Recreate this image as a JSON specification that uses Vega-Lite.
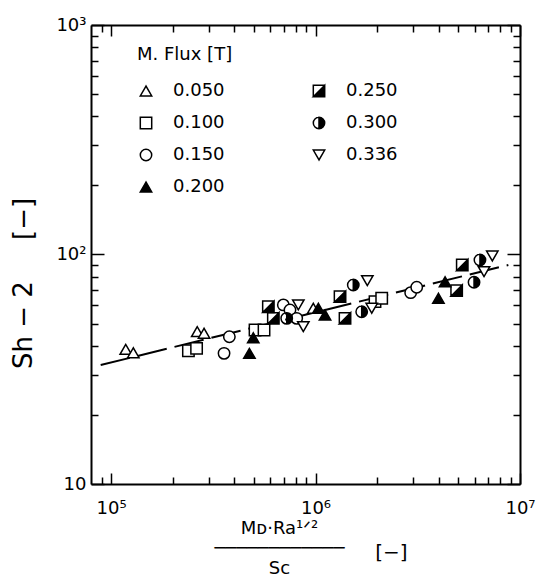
{
  "$schema": "https://vega.github.io/schema/vega-lite/v6.json",
  "width": 429,
  "height": 459,
  "autosize": {"type": "none"},
  "padding": {"left": 91, "top": 25, "right": 20, "bottom": 92},
  "background": "white",
  "config": {
    "font": "DejaVu Sans",
    "view": {"stroke": null},
    "axis": {
      "grid": false,
      "domainColor": "black",
      "domainWidth": 2,
      "tickColor": "black",
      "tickWidth": 1.5,
      "labelColor": "black",
      "labelFont": "DejaVu Sans",
      "labelFontSize": 18,
      "labelOverlap": false,
      "labelFlush": false,
      "titleColor": "black",
      "titleFont": "DejaVu Sans",
      "titleFontWeight": "normal"
    },
    "legend": {
      "title": "M. Flux [T]",
      "orient": "none",
      "legendX": 46,
      "legendY": 21,
      "columns": 2,
      "columnPadding": 85,
      "rowPadding": 14,
      "labelFontSize": 18,
      "labelFont": "DejaVu Sans",
      "labelColor": "black",
      "labelOffset": 18,
      "titleFontSize": 18,
      "titleFont": "DejaVu Sans",
      "titleFontWeight": "normal",
      "titleColor": "black",
      "titlePadding": 18,
      "symbolSize": 130,
      "symbolStrokeWidth": 1.5,
      "symbolOpacity": 1
    }
  },
  "datasets": {
    "fit": [
      {"x": 89000, "y": 33.0},
      {"x": 8770000, "y": 90.0}
    ],
    "pts": [
      {"flux": "0.050", "x": 118000, "y": 38.6},
      {"flux": "0.050", "x": 128500, "y": 37.3},
      {"flux": "0.050", "x": 264000, "y": 46.1},
      {"flux": "0.050", "x": 285000, "y": 45.4},
      {"flux": "0.050", "x": 975000, "y": 58.3},
      {"flux": "0.100", "x": 239000, "y": 38.1},
      {"flux": "0.100", "x": 262000, "y": 39.0},
      {"flux": "0.100", "x": 506000, "y": 46.9},
      {"flux": "0.100", "x": 560000, "y": 46.9},
      {"flux": "0.100", "x": 1954000, "y": 62.3},
      {"flux": "0.100", "x": 2107000, "y": 64.5},
      {"flux": "0.150", "x": 379000, "y": 43.8},
      {"flux": "0.150", "x": 357000, "y": 37.1},
      {"flux": "0.150", "x": 696000, "y": 60.3},
      {"flux": "0.150", "x": 750000, "y": 57.3},
      {"flux": "0.150", "x": 809000, "y": 52.7},
      {"flux": "0.150", "x": 2920000, "y": 68.2},
      {"flux": "0.150", "x": 3125000, "y": 72.0},
      {"flux": "0.200", "x": 475000, "y": 37.1},
      {"flux": "0.200", "x": 496000, "y": 43.4},
      {"flux": "0.200", "x": 1032000, "y": 58.3},
      {"flux": "0.200", "x": 1113000, "y": 54.5},
      {"flux": "0.200", "x": 4300000, "y": 76.1},
      {"flux": "0.200", "x": 3990000, "y": 64.5},
      {"flux": "0.250", "x": 588000, "y": 59.2},
      {"flux": "0.250", "x": 622000, "y": 52.7},
      {"flux": "0.250", "x": 1318000, "y": 65.5},
      {"flux": "0.250", "x": 1394000, "y": 52.7},
      {"flux": "0.250", "x": 5220000, "y": 90.0},
      {"flux": "0.250", "x": 4900000, "y": 69.6},
      {"flux": "0.300", "x": 723000, "y": 52.7},
      {"flux": "0.300", "x": 1530000, "y": 73.6},
      {"flux": "0.300", "x": 1682000, "y": 56.3},
      {"flux": "0.300", "x": 5960000, "y": 75.7},
      {"flux": "0.300", "x": 6370000, "y": 94.6},
      {"flux": "0.336", "x": 824000, "y": 60.3},
      {"flux": "0.336", "x": 871600, "y": 48.5},
      {"flux": "0.336", "x": 1792000, "y": 76.9},
      {"flux": "0.336", "x": 1883000, "y": 58.3},
      {"flux": "0.336", "x": 7320000, "y": 98.5},
      {"flux": "0.336", "x": 6670000, "y": 84.2}
    ]
  },
  "resolve": {"axis": {"x": "independent", "y": "independent"}},
  "layer": [
    {
      "data": {"name": "fit"},
      "mark": {"type": "line", "stroke": "black", "strokeWidth": 2, "strokeDash": [30, 8]},
      "encoding": {
        "x": {
          "field": "x", "type": "quantitative",
          "scale": {"type": "log", "domain": [79800, 10000000], "nice": false},
          "axis": {
            "orient": "bottom",
            "values": [90000, 100000, 200000, 300000, 400000, 500000, 600000, 700000, 800000, 900000, 1000000, 2000000, 3000000, 4000000, 5000000, 6000000, 7000000, 8000000, 9000000, 10000000],
            "tickSize": {"condition": {"test": "datum.value==100000||datum.value==1000000||datum.value==10000000", "value": -11}, "value": -7},
            "labelPadding": 26,
            "labelExpr": "datum.value==100000?'10⁵':datum.value==1000000?'10⁶':datum.value==10000000?'10⁷':''",
            "title": ["Mᴅ·Ra¹ᐟ²", "────────────", "Sc"],
            "titleFontSize": 18,
            "titleLineHeight": 20,
            "titleX": 188,
            "titleY": 49,
            "titleAlign": "center",
            "titleBaseline": "alphabetic",
            "titleAngle": 0
          }
        },
        "y": {
          "field": "y", "type": "quantitative",
          "scale": {"type": "log", "domain": [10, 1000], "nice": false},
          "axis": {
            "orient": "left",
            "values": [10, 20, 30, 40, 50, 60, 70, 80, 90, 100, 200, 300, 400, 500, 600, 700, 800, 900, 1000],
            "tickSize": {"condition": {"test": "datum.value==10||datum.value==100||datum.value==1000", "value": -13}, "value": -7},
            "labelPadding": 18,
            "labelExpr": "datum.value==1000?'10³':datum.value==100?'10²':datum.value==10?'10':''",
            "title": "Sh − 2\u00a0\u00a0\u00a0\u00a0\u00a0[−]",
            "titleFontSize": 26,
            "titleX": -68,
            "titleY": 258,
            "titleAngle": -90,
            "titleAlign": "center",
            "titleBaseline": "middle"
          }
        }
      }
    },
    {
      "data": {"name": "pts"},
      "mark": {"type": "point", "size": 130, "strokeWidth": 1.5, "opacity": 1, "fillOpacity": 1, "strokeOpacity": 1},
      "encoding": {
        "x": {
          "field": "x", "type": "quantitative",
          "axis": {
            "orient": "top",
            "values": [90000, 100000, 200000, 300000, 400000, 500000, 600000, 700000, 800000, 900000, 1000000, 2000000, 3000000, 4000000, 5000000, 6000000, 7000000, 8000000, 9000000, 10000000],
            "tickSize": {"condition": {"test": "datum.value==100000||datum.value==1000000||datum.value==10000000", "value": -11}, "value": -7},
            "labels": false,
            "title": "[−]",
            "titleFontSize": 20,
            "titleX": 300,
            "titleY": 527,
            "titleAlign": "center",
            "titleBaseline": "middle",
            "titleAngle": 0
          }
        },
        "y": {
          "field": "y", "type": "quantitative",
          "axis": {
            "orient": "right",
            "values": [10, 20, 30, 40, 50, 60, 70, 80, 90, 100, 200, 300, 400, 500, 600, 700, 800, 900, 1000],
            "tickSize": {"condition": {"test": "datum.value==10||datum.value==100||datum.value==1000", "value": -13}, "value": -7},
            "labels": false,
            "title": null
          }
        },
        "shape": {
          "field": "flux", "type": "nominal",
          "scale": {
            "domain": ["0.050", "0.100", "0.150", "0.200", "0.250", "0.300", "0.336"],
            "range": ["triangle-up", "square", "circle", "triangle-up", "M-1,-1L1,-1L1,1L-1,1ZM-1,-1L-1,1L1,1L1,-1ZM1,-1L1,1L-1,1Z", "M1,0A1,1,0,1,1,-1,0A1,1,0,1,1,1,0ZM1,0A1,1,0,1,0,-1,0A1,1,0,1,0,1,0ZM0,-1A1,1,0,0,1,0,1Z", "triangle-down"]
          },
          "legend": {"title": "M. Flux [T]"}
        },
        "fill": {
          "field": "flux", "type": "nominal",
          "scale": {
            "domain": ["0.050", "0.100", "0.150", "0.200", "0.250", "0.300", "0.336"],
            "range": ["white", "white", "white", "black", "black", "black", "white"]
          },
          "legend": {"title": "M. Flux [T]"}
        },
        "stroke": {
          "field": "flux", "type": "nominal",
          "scale": {
            "domain": ["0.050", "0.100", "0.150", "0.200", "0.250", "0.300", "0.336"],
            "range": ["black", "black", "black", "black", "black", "black", "black"]
          },
          "legend": {"title": "M. Flux [T]"}
        }
      }
    }
  ]
}
